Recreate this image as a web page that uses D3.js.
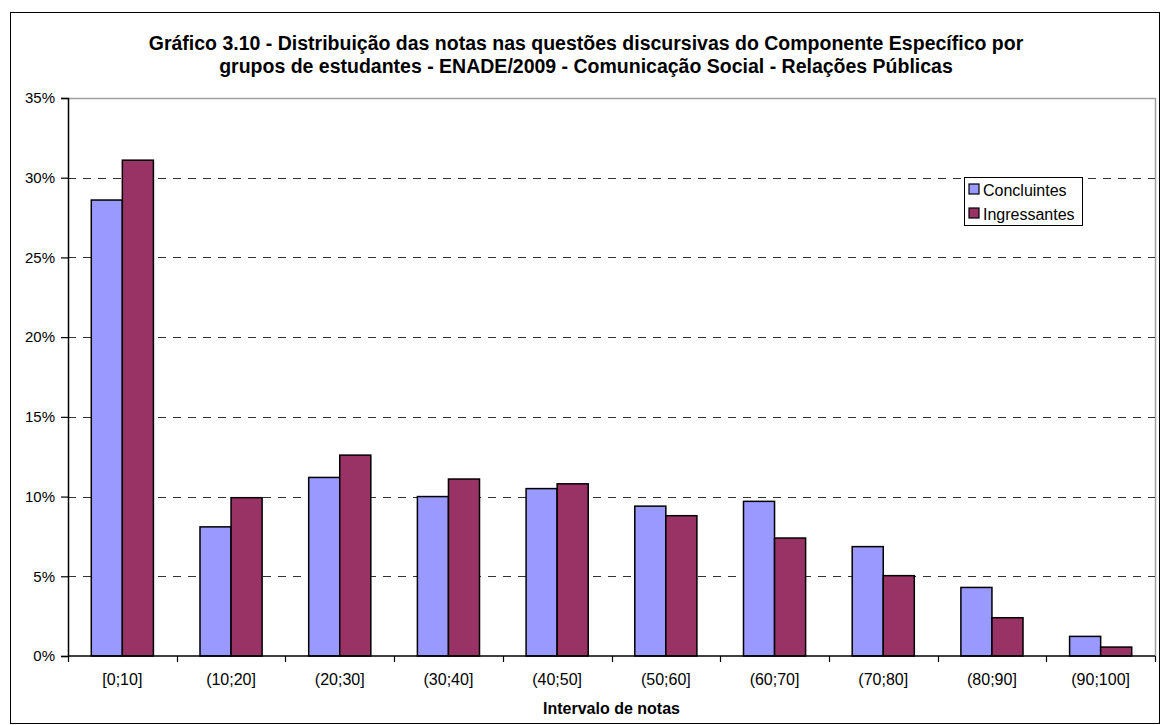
<!DOCTYPE html>
<html>
<head>
<meta charset="utf-8">
<script src="https://cdn.jsdelivr.net/npm/d3@7"></script>
<style>
  body { margin: 0; background: #fff; }
  text { font-family: "Liberation Sans", Arial, sans-serif; fill: #000; }
</style>
</head>
<body>
<div id="chart"></div>
<script>
// values (percent)
const categories = ["[0;10]", "(10;20]", "(20;30]", "(30;40]", "(40;50]", "(50;60]", "(60;70]", "(70;80]", "(80;90]", "(90;100]"]
const seriesNames = ["Concluintes", "Ingressantes"]
const concluintes = [28.6, 8.1, 11.2, 10.0, 10.5, 9.4, 9.7, 6.86, 4.3, 1.23]
const ingressantes = [31.1, 9.93, 12.6, 11.1, 10.8, 8.8, 7.4, 5.04, 2.4, 0.56]
const yTicks = [0, 5, 10, 15, 20, 25, 30, 35]
const colors = ["#9999FF", "#993366"]

const width = 1161, height = 725
const plotLeft = 68, plotRight = 1155, plotTop = 98, plotBottom = 656

const svg = d3.select("#chart").append("svg")
    .attr("width", width)
    .attr("height", height)

// outer chart border
svg.append("rect")
    .attr("x", 10.5).attr("y", 12.5)
    .attr("width", 1149).attr("height", 711)
    .attr("fill", "#fff")
    .attr("stroke", "#000")
    .attr("stroke-width", 1)

svg.append("text")
    .attr("x", 586).attr("y", 50)
    .attr("text-anchor", "middle")
    .attr("font-size", 19.5).attr("font-weight", "bold")
    .text("Gráfico 3.10 - Distribuição das notas nas questões discursivas do Componente Específico por")
svg.append("text")
    .attr("x", 586).attr("y", 73)
    .attr("text-anchor", "middle")
    .attr("font-size", 19.5).attr("font-weight", "bold")
    .text("grupos de estudantes - ENADE/2009 - Comunicação Social - Relações Públicas")

const x = d3.scaleBand()
    .domain(categories)
    .range([plotLeft, plotRight])

const inner = d3.scaleBand()
    .domain(seriesNames)
    .range([0, x.bandwidth()])
    .paddingOuter(0.75)
    .paddingInner(0)

const y = d3.scaleLinear()
    .domain([0, 35])
    .range([plotBottom, plotTop])

// plot area border (top + right) in gray
svg.append("path")
    .attr("d", `M${plotLeft},${plotTop + 0.5}H${plotRight + 0.5}V${plotBottom}`)
    .attr("fill", "none")
    .attr("stroke", "#a0a0a0")
    .attr("stroke-width", 1.5)

// dashed gridlines
svg.append("g")
    .selectAll("line")
    .data(yTicks.filter(d => d > 0 && d < 35))
    .enter().append("line")
    .attr("x1", plotLeft).attr("x2", plotRight)
    .attr("y1", d => Math.round(y(d)) + 0.5)
    .attr("y2", d => Math.round(y(d)) + 0.5)
    .attr("stroke", "#333")
    .attr("stroke-width", 1.2)
    .attr("stroke-dasharray", "8,7")

const rows = categories.map((c, i) => ({cat: c, values: [concluintes[i], ingressantes[i]]}))

const groups = svg.append("g")
    .selectAll("g")
    .data(rows)
    .enter().append("g")
    .attr("transform", d => `translate(${x(d.cat)},0)`)

groups.selectAll("rect")
    .data(d => d.values.map((v, j) => ({name: seriesNames[j], v: v, j: j})))
    .enter().append("rect")
    .attr("x", d => inner(d.name))
    .attr("width", inner.bandwidth())
    .attr("y", d => y(d.v))
    .attr("height", d => plotBottom - y(d.v))
    .attr("fill", d => colors[d.j])
    .attr("stroke", "#000")
    .attr("stroke-width", 1.5)

// y axis
const yAxis = svg.append("g")
    .attr("transform", `translate(${plotLeft},0)`)
    .call(d3.axisLeft(y).tickValues(yTicks).tickSize(7).tickPadding(6).tickFormat(d => d + "%"))
yAxis.select(".domain").attr("stroke", "#000").attr("stroke-width", 1.5)
yAxis.selectAll(".tick line").attr("stroke", "#000").attr("stroke-width", 1.2)
yAxis.selectAll(".tick text")
    .attr("font-size", 15)
    .attr("font-family", "Liberation Sans, Arial, sans-serif")
    .attr("fill", "#000")

// x axis: ticks on category boundaries
const xAxisG = svg.append("g")
    .attr("transform", `translate(0,${plotBottom})`)
xAxisG.append("line")
    .attr("x1", plotLeft).attr("x2", plotRight)
    .attr("stroke", "#000").attr("stroke-width", 1.5)
xAxisG.selectAll(".bt")
    .data(categories.concat(["end"]))
    .enter().append("line")
    .attr("class", "bt")
    .attr("x1", (d, i) => Math.round(plotLeft + i * x.step()) + 0.5)
    .attr("x2", (d, i) => Math.round(plotLeft + i * x.step()) + 0.5)
    .attr("y1", 0).attr("y2", 6)
    .attr("stroke", "#000").attr("stroke-width", 1.2)
xAxisG.selectAll("text")
    .data(categories)
    .enter().append("text")
    .attr("x", d => x(d) + x.bandwidth() / 2)
    .attr("y", 29)
    .attr("text-anchor", "middle")
    .attr("font-size", 16)
    .text(d => d)

svg.append("text")
    .attr("x", (plotLeft + plotRight) / 2)
    .attr("y", 714)
    .attr("text-anchor", "middle")
    .attr("font-size", 16).attr("font-weight", "bold")
    .text("Intervalo de notas")

// legend
const legend = svg.append("g").attr("transform", "translate(964,177)")
legend.append("rect")
    .attr("x", 0.5).attr("y", 0.5)
    .attr("width", 118).attr("height", 48)
    .attr("fill", "#fff").attr("stroke", "#000").attr("stroke-width", 1)
seriesNames.forEach((name, i) => {
    legend.append("rect")
        .attr("x", 5).attr("y", 7 + i * 24)
        .attr("width", 10).attr("height", 10)
        .attr("fill", colors[i])
        .attr("stroke", "#000").attr("stroke-width", 1.2)
    legend.append("text")
        .attr("x", 19).attr("y", 19 + i * 24)
        .attr("font-size", 16)
        .text(name)
})
</script>
</body>
</html>
